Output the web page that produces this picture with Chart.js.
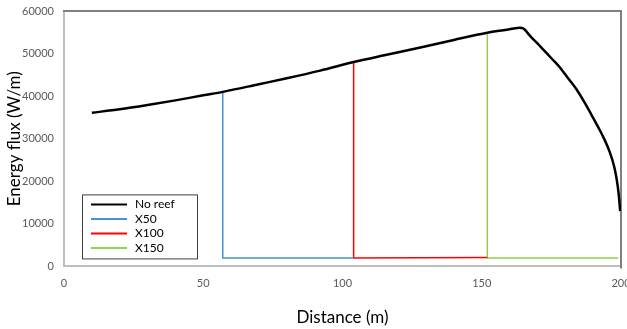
<!DOCTYPE html>
<html>
<head>
    <title>Energy flux</title>
    <script src="https://cdn.jsdelivr.net/npm/chart.js"></script>
    <style>
        html, body { margin: 0; padding: 0; background: #fff; }
        #wrap { width: 627px; height: 329px; }
    </style>
</head>
<body>
    <div id="wrap"><canvas id="fluxChart"></canvas></div>

    <script>
        // distance (m) and energy flux (W/m)
        const noReefX = [10, 20, 30, 40, 50, 57, 70, 80, 92, 104, 115, 130, 140, 152, 160, 162, 163.5, 164.5, 165.5, 166.5, 168, 170, 172, 175, 178, 181, 184, 187, 190, 192, 194, 196, 197.5, 198.5, 199.2, 199.7];
        const noReefY = [36100, 36900, 37900, 39000, 40200, 41000, 42800, 44200, 46000, 48000, 49600, 51700, 53200, 54900, 55700, 55950, 56050, 56000, 55600, 54800, 53700, 52400, 51000, 48900, 46800, 44200, 41600, 38400, 34900, 32500, 29900, 26800, 23600, 20300, 16800, 13000];
        const x50X = [57, 57, 104];
        const x50Y = [41000, 2000, 2000];
        const x100X = [104, 104, 152];
        const x100Y = [48000, 1950, 2100];
        const x150X = [152, 152, 199];
        const x150Y = [54900, 2000, 2000];

        const seriesNames = ['No reef', 'X50', 'X100', 'X150'];
        const seriesColors = ['#000000', '#4a8fd2', '#ff0000', '#92d050'];
        const xTicks = [0, 50, 100, 150, 200];
        const yTicks = [0, 10000, 20000, 30000, 40000, 50000, 60000];

        function pts(xs, ys) {
            return xs.map((x, i) => ({ x: x, y: ys[i] }));
        }

        // top/right plot frame + legend box inside the plot
        const framePlugin = {
            id: 'frame',
            beforeDatasetsDraw(chart) {
                const a = chart.chartArea, c = chart.ctx;
                c.save();
                c.strokeStyle = '#808080';
                c.lineWidth = 2;
                c.beginPath();
                c.moveTo(a.left - 1, a.top);
                c.lineTo(a.right, a.top);
                c.lineTo(a.right, a.bottom + 2);
                c.stroke();
                c.restore();
            },
            afterDraw(chart) {
                const a = chart.chartArea, c = chart.ctx;
                const bx = a.left + 18, bw = 115, bh = 64;
                const by = a.bottom - 8 - bh;
                c.save();
                c.fillStyle = '#fff';
                c.fillRect(bx, by, bw, bh);
                c.strokeStyle = '#404040';
                c.lineWidth = 1;
                c.strokeRect(bx + 0.5, by + 0.5, bw, bh);
                c.font = '12px Lato, "Open Sans", sans-serif';
                c.textBaseline = 'middle';
                chart.data.datasets.forEach((ds, i) => {
                    const yy = by + 10 + i * 14.5;
                    c.strokeStyle = ds.borderColor;
                    c.lineWidth = 2;
                    c.beginPath();
                    c.moveTo(bx + 9, yy);
                    c.lineTo(bx + 45, yy);
                    c.stroke();
                    c.fillStyle = '#000';
                    c.fillText(ds.label, bx + 53, yy);
                });
                c.restore();
            }
        };

        const ctx = document.getElementById('fluxChart').getContext('2d');
        const chart = new Chart(ctx, {
            type: 'scatter',
            plugins: [framePlugin],
            data: {
                datasets: [
                    { label: seriesNames[0], data: pts(noReefX, noReefY), borderColor: seriesColors[0], borderWidth: 2.5, cubicInterpolationMode: 'monotone' },
                    { label: seriesNames[1], data: pts(x50X, x50Y), borderColor: seriesColors[1], borderWidth: 1.5, tension: 0 },
                    { label: seriesNames[2], data: pts(x100X, x100Y), borderColor: seriesColors[2], borderWidth: 1.5, tension: 0 },
                    { label: seriesNames[3], data: pts(x150X, x150Y), borderColor: seriesColors[3], borderWidth: 1.5, tension: 0 }
                ].map(d => Object.assign(d, { showLine: true, pointRadius: 0, fill: false }))
            },
            options: {
                responsive: true,
                maintainAspectRatio: false,
                animation: false,
                layout: { padding: { top: 11, right: 0, left: 0, bottom: 1 } },
                plugins: {
                    legend: { display: false },
                    tooltip: { enabled: false }
                },
                scales: {
                    x: {
                        type: 'linear',
                        min: 0,
                        max: 200,
                        afterBuildTicks: s => { s.ticks = xTicks.map(v => ({ value: v })); },
                        afterFit: s => { s.paddingRight = 6; },
                        grid: { display: false, drawTicks: false },
                        border: { color: '#bfbfbf', width: 2 },
                        ticks: { color: '#595959', padding: 10, font: { family: 'Lato', size: 11 }, callback: v => String(v) },
                        title: {
                            display: true,
                            text: 'Distance (m)',
                            color: '#000',
                            font: { family: 'Lato', size: 17 },
                            padding: { top: 8, bottom: 0 }
                        }
                    },
                    y: {
                        type: 'linear',
                        min: 0,
                        max: 60000,
                        afterBuildTicks: s => { s.ticks = yTicks.map(v => ({ value: v })); },
                        afterFit: s => { s.width = 64; s.paddingTop = 0; },
                        grid: { display: false, drawTicks: false },
                        border: { color: '#bfbfbf', width: 2 },
                        ticks: { color: '#595959', padding: 10, font: { family: 'Lato', size: 11 }, callback: v => String(v) },
                        title: {
                            display: true,
                            text: 'Energy flux (W/m)',
                            color: '#000',
                            font: { family: 'Lato', size: 17 },
                            padding: { top: 4, bottom: 0 }
                        }
                    }
                }
            }
        });
    </script>
</body>
</html>
